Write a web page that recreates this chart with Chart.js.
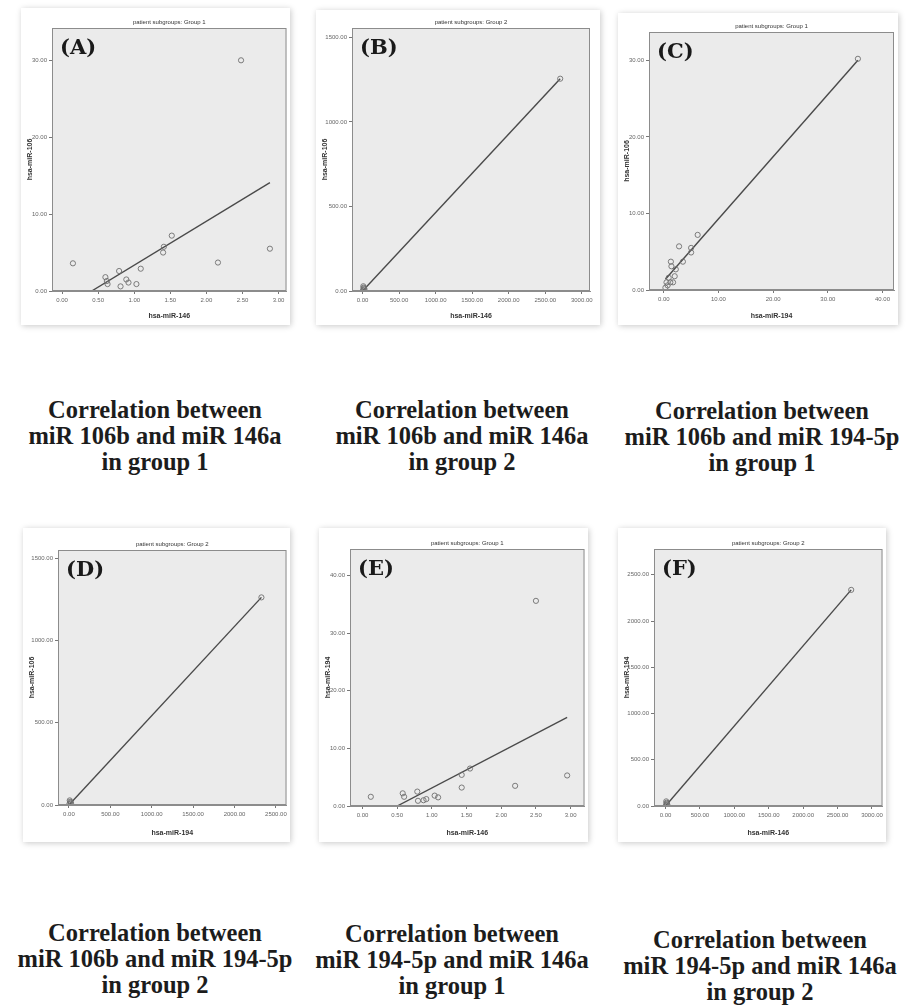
<!DOCTYPE html>
<html lang="en">
<head>
  <meta charset="UTF-8">
  <title>miRNA correlations by patient subgroup</title>
  <script src="https://cdn.jsdelivr.net/npm/chart.js"></script>
  <style>
    body { margin: 0; background: #fff; width: 909px; height: 1006px; position: relative; overflow: hidden; }
    .card { position: absolute; background: #fff; box-shadow: 1px 1px 6px rgba(0,0,0,0.22); }
    .card canvas { display: block; }
    .caption { position: absolute; width: 320px; text-align: center; font-family: 'Liberation Serif', 'Times New Roman', serif;
               font-weight: bold; font-size: 24.5px; line-height: 26px; color: #1c1c1c; white-space: nowrap; }
  </style>
</head>
<body>
<script>
// values
// (A) group 1: x = hsa-miR-146, y = hsa-miR-106
const aX = [0.15, 0.60, 0.62, 0.63, 0.79, 0.81, 0.89, 0.92, 1.03, 1.09, 1.40, 1.41, 1.52, 2.16, 2.48, 2.88];
const aY = [3.6, 1.8, 1.3, 0.9, 2.6, 0.6, 1.5, 1.1, 0.9, 2.9, 5.0, 5.75, 7.2, 3.7, 30.0, 5.5];
const aFitX = [0.41, 2.88];
const aFitY = [0, 14.1];

// (B) group 2: x = hsa-miR-146, y = hsa-miR-106
const bX = [5, 15, 25, 10, 20, 2705];
const bY = [5, 20, 10, 28, 15, 1256];
const bFitX = [0, 2705];
const bFitY = [0, 1256];

// (C) group 1: x = hsa-miR-194, y = hsa-miR-106
const cX = [0.3, 0.5, 0.7, 0.9, 1.2, 1.3, 1.4, 1.7, 2.0, 2.2, 2.8, 3.5, 5.0, 5.0, 6.2, 35.5];
const cY = [0.3, 1.0, 0.6, 1.6, 1.0, 3.7, 3.1, 1.0, 1.8, 2.7, 5.7, 3.7, 5.5, 4.9, 7.2, 30.2];
const cFitX = [0.3, 35.5];
const cFitY = [1.4, 30.0];

// (D) group 2: x = hsa-miR-194, y = hsa-miR-106
const dX = [5, 15, 25, 10, 20, 2325];
const dY = [5, 20, 10, 28, 15, 1262];
const dFitX = [0, 2325];
const dFitY = [0, 1262];

// (E) group 1: x = hsa-miR-146, y = hsa-miR-194
const eX = [0.12, 0.58, 0.60, 0.79, 0.80, 0.88, 0.92, 1.04, 1.09, 1.43, 1.43, 1.55, 2.20, 2.50, 2.95];
const eY = [1.6, 2.2, 1.6, 2.5, 0.9, 1.0, 1.2, 1.8, 1.5, 3.2, 5.4, 6.5, 3.5, 35.6, 5.3];
const eFitX = [0.5, 2.95];
const eFitY = [0, 15.4];

// (F) group 2: x = hsa-miR-146, y = hsa-miR-194
const fX = [5, 15, 25, 10, 20, 2698];
const fY = [8, 35, 15, 50, 25, 2337];
const fFitX = [0, 2698];
const fFitY = [0, 2337];

// tick values
const ticksSmall146 = [0, 0.5, 1, 1.5, 2, 2.5, 3];
const ticks0to3000 = [0, 500, 1000, 1500, 2000, 2500, 3000];
const ticks0to2500 = [0, 500, 1000, 1500, 2000, 2500];
const ticks0to1500 = [0, 500, 1000, 1500];
const ticks0to30 = [0, 10, 20, 30];
const ticks0to40 = [0, 10, 20, 30, 40];

const captions = [
  ['Correlation between', 'miR 106b and miR 146a', 'in group 1'],
  ['Correlation between', 'miR 106b and miR 146a', 'in group 2'],
  ['Correlation between', 'miR 106b and miR 194-5p', 'in group 1'],
  ['Correlation between', 'miR 106b and miR 194-5p', 'in group 2'],
  ['Correlation between', 'miR 194-5p and miR 146a', 'in group 1'],
  ['Correlation between', 'miR 194-5p and miR 146a', 'in group 2']
];

// panel layout: card = [left, top, width, height], plot = [left, top, right, bottom] in page px
const panels = [
  { tag: '(A)', group: 'Group 1', xs: aX, ys: aY, fitX: aFitX, fitY: aFitY, tx: ticksSmall146, ty: ticks0to30,
    xLabel: 'hsa-miR-146', yLabel: 'hsa-miR-106', xr: [-0.14, 3.11], yr: [0, 34.2],
    card: [21, 8, 269, 317], plot: [52, 28, 287, 291], cap: [155, 397] },
  { tag: '(B)', group: 'Group 2', xs: bX, ys: bY, fitX: bFitX, fitY: bFitY, tx: ticks0to3000, ty: ticks0to1500,
    xLabel: 'hsa-miR-146', yLabel: 'hsa-miR-106', xr: [-145, 3113], yr: [0, 1556],
    card: [316, 10, 284, 315], plot: [352, 28, 590, 291], cap: [462, 397] },
  { tag: '(C)', group: 'Group 1', xs: cX, ys: cY, fitX: cFitX, fitY: cFitY, tx: ticks0to40, ty: ticks0to30,
    xLabel: 'hsa-miR-194', yLabel: 'hsa-miR-106', xr: [-2.7, 42.1], yr: [0, 33.7],
    card: [618, 13, 280, 312], plot: [649, 32, 894, 290], cap: [762, 398] },
  { tag: '(D)', group: 'Group 2', xs: dX, ys: dY, fitX: dFitX, fitY: dFitY, tx: ticks0to2500, ty: ticks0to1500,
    xLabel: 'hsa-miR-194', yLabel: 'hsa-miR-106', xr: [-132, 2628], yr: [0, 1550],
    card: [23, 528, 267, 314], plot: [58, 550, 287, 805], cap: [155, 920] },
  { tag: '(E)', group: 'Group 1', xs: eX, ys: eY, fitX: eFitX, fitY: eFitY, tx: ticksSmall146, ty: ticks0to40,
    xLabel: 'hsa-miR-146', yLabel: 'hsa-miR-194', xr: [-0.18, 3.2], yr: [0, 44.6],
    card: [319, 528, 269, 314], plot: [350, 549, 586, 806], cap: [452, 921] },
  { tag: '(F)', group: 'Group 2', xs: fX, ys: fY, fitX: fFitX, fitY: fFitY, tx: ticks0to3000, ty: ticks0to2500,
    xLabel: 'hsa-miR-146', yLabel: 'hsa-miR-194', xr: [-168, 3153], yr: [0, 2779],
    card: [618, 528, 268, 314], plot: [654, 549, 883, 806], cap: [760, 927] }
];

const framePlugin = {
  id: 'frame',
  beforeDraw(chart) {
    const a = chart.chartArea, ctx = chart.ctx;
    ctx.save();
    ctx.fillStyle = '#ebebeb';
    ctx.fillRect(a.left, a.top, a.right - a.left, a.bottom - a.top);
    ctx.restore();
  },
  afterDraw(chart, args, opts) {
    const a = chart.chartArea, ctx = chart.ctx;
    ctx.save();
    ctx.strokeStyle = '#8c8c8c';
    ctx.lineWidth = 1;
    ctx.strokeRect(a.left + 0.5, a.top + 0.5, a.right - a.left - 1, a.bottom - a.top - 1);
    ctx.fillStyle = '#333';
    ctx.font = '6px "Liberation Sans", Arial, sans-serif';
    ctx.textAlign = 'center';
    ctx.textBaseline = 'bottom';
    ctx.fillText('patient subgroups: ' + opts.group, (a.left + a.right) / 2, a.top - 3);
    ctx.fillStyle = '#1a1a1a';
    ctx.font = 'bold 21px "DejaVu Serif", serif';
    ctx.textAlign = 'left';
    ctx.textBaseline = 'top';
    ctx.fillText(opts.tag, a.left + 8, a.top + 10);
    ctx.restore();
  }
};

const tickFont = { family: '"Liberation Sans", Arial, sans-serif', size: 6 };
const titleFont = { family: '"Liberation Sans", Arial, sans-serif', size: 7, weight: 'bold' };

panels.forEach((p, i) => {
  const [cl, ct, cw, ch] = p.card;
  const [pl, pt, pr, pb] = p.plot;
  const card = document.createElement('div');
  card.className = 'card';
  card.style.left = cl + 'px';
  card.style.top = ct + 'px';
  card.style.width = cw + 'px';
  card.style.height = ch + 'px';
  const canvas = document.createElement('canvas');
  canvas.width = cw;
  canvas.height = ch;
  card.appendChild(canvas);
  document.body.appendChild(card);

  const yW = pl - cl, xH = ct + ch - pb;
  const points = p.xs.map((x, k) => ({ x: x, y: p.ys[k] }));
  const fit = p.fitX.map((x, k) => ({ x: x, y: p.fitY[k] }));

  new Chart(canvas, {
    type: 'scatter',
    data: {
      datasets: [
        { data: points, pointRadius: 2.6, pointBorderWidth: 0.9, borderColor: '#6e6e6e',
          backgroundColor: 'rgba(0,0,0,0)', pointHoverRadius: 2.6 },
        { type: 'line', data: fit, showLine: true, pointRadius: 0, borderColor: '#4a4a4a',
          borderWidth: 1.4, fill: false }
      ]
    },
    options: {
      responsive: false,
      animation: false,
      events: [],
      layout: { padding: { top: pt - ct, right: cl + cw - pr, left: 0, bottom: 0 } },
      plugins: {
        legend: { display: false },
        tooltip: { enabled: false },
        frame: { group: p.group, tag: p.tag }
      },
      scales: {
        x: {
          type: 'linear', min: p.xr[0], max: p.xr[1],
          afterBuildTicks: ax => { ax.ticks = p.tx.map(v => ({ value: v })); },
          afterFit: s => { s.height = xH; },
          ticks: { font: tickFont, color: '#666', padding: 3, maxRotation: 0, autoSkip: false,
                   callback: v => v.toFixed(2) },
          grid: { drawOnChartArea: false, tickLength: 3, color: '#777' },
          border: { display: true, color: '#8c8c8c' },
          title: { display: true, text: p.xLabel, font: titleFont, color: '#333', padding: { top: 0, bottom: 5 } }
        },
        y: {
          type: 'linear', min: p.yr[0], max: p.yr[1],
          afterBuildTicks: ax => { ax.ticks = p.ty.map(v => ({ value: v })); },
          afterFit: s => { s.width = yW; },
          ticks: { font: tickFont, color: '#666', padding: 2, autoSkip: false,
                   callback: v => v.toFixed(2) },
          grid: { drawOnChartArea: false, tickLength: 3, color: '#777' },
          border: { display: true, color: '#8c8c8c' },
          title: { display: true, text: p.yLabel, font: titleFont, color: '#333', padding: { top: 5, bottom: 0 } }
        }
      }
    },
    plugins: [framePlugin]
  });

  const cap = document.createElement('div');
  cap.className = 'caption';
  cap.style.left = (p.cap[0] - 160) + 'px';
  cap.style.top = p.cap[1] + 'px';
  cap.innerHTML = captions[i].join('<br>');
  document.body.appendChild(cap);
});
</script>
</body>
</html>
